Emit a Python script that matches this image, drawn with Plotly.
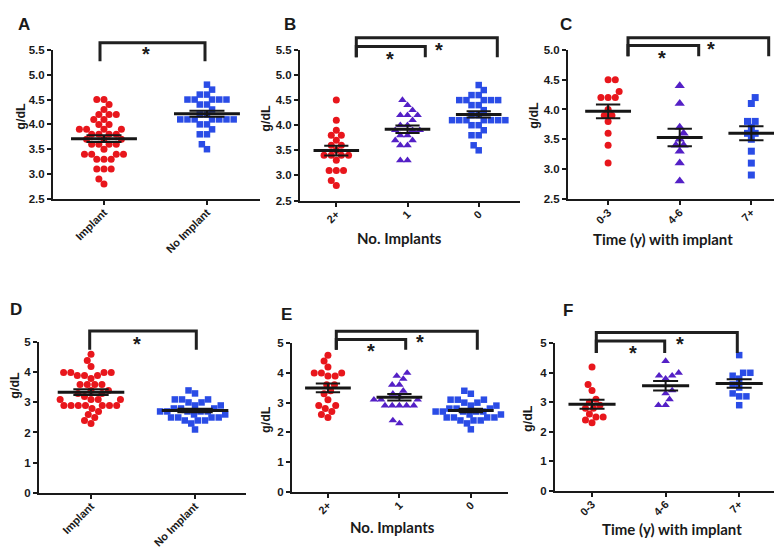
import numpy as np
import plotly.graph_objects as go

W, H = 782, 548

# ---------------- data (g/dL) ----------------
a_categories = ["Implant", "No Implant"]
a_implant = [4.5, 4.5, 4.4, 4.3, 4.2, 4.2, 4.2, 4.1, 4.1, 4.0, 4.0, 3.9, 3.9, 3.9, 3.9,
             3.8, 3.8, 3.8, 3.8, 3.7, 3.7, 3.7, 3.6, 3.6, 3.6, 3.6, 3.5, 3.4, 3.4, 3.4,
             3.4, 3.3, 3.3, 3.3, 3.1, 3.1, 3.1, 2.9, 2.8]
a_no_implant = [4.8, 4.7, 4.6, 4.6, 4.5, 4.5, 4.5, 4.5, 4.5, 4.4, 4.4, 4.3, 4.2, 4.2,
                4.1, 4.1, 4.1, 4.1, 4.1, 4.1, 4.1, 4.0, 4.0, 3.9, 3.8, 3.8, 3.6, 3.5]

b_categories = ["2+", "1", "0"]
b_two_plus = [4.5, 4.1, 3.9, 3.8, 3.8, 3.7, 3.6, 3.6, 3.5, 3.4, 3.4, 3.4, 3.4, 3.3,
              3.1, 3.1, 3.1, 2.9, 2.8]
b_one = [4.5, 4.4, 4.3, 4.2, 4.2, 4.2, 4.1, 4.0, 4.0, 3.9, 3.9, 3.9, 3.8, 3.8, 3.7,
         3.7, 3.6, 3.6, 3.3, 3.3]
b_zero = a_no_implant

c_categories = ["0-3", "4-6", "7+"]
c_0_3 = [4.5, 4.5, 4.3, 4.2, 4.2, 4.2, 4.0, 3.9, 3.9, 3.8, 3.6, 3.4, 3.1]
c_4_6 = [4.4, 4.1, 3.7, 3.6, 3.5, 3.4, 3.4, 3.3, 3.1, 2.8]
c_7_plus = [4.2, 4.1, 3.8, 3.8, 3.7, 3.6, 3.6, 3.5, 3.3, 3.1, 2.9]

d_categories = ["Implant", "No Implant"]
e_two_plus = [4.6, 4.4, 4.2, 4.0, 4.0, 4.0, 3.9, 3.9, 3.6, 3.6, 3.4, 3.3, 3.1, 2.9,
              2.9, 2.8, 2.7, 2.6, 2.5]
e_one = [4.0, 3.9, 3.8, 3.6, 3.6, 3.4, 3.3, 3.2, 3.1, 3.1, 3.1, 2.9, 2.9, 2.9, 2.9,
         2.9, 2.4, 2.3]
e_zero = [3.4, 3.3, 3.1, 3.1, 3.1, 3.0, 3.0, 2.9, 2.9, 2.8, 2.8, 2.8, 2.7, 2.7, 2.7,
          2.7, 2.7, 2.6, 2.6, 2.5, 2.5, 2.5, 2.5, 2.4, 2.4, 2.4, 2.3, 2.1]
d_implant = e_two_plus + e_one
d_no_implant = e_zero
e_categories = ["2+", "1", "0"]

f_categories = ["0-3", "4-6", "7+"]
f_0_3 = [4.2, 3.6, 3.4, 3.1, 3.0, 2.9, 2.8, 2.8, 2.6, 2.5, 2.5, 2.4, 2.3]
f_4_6 = [4.4, 4.0, 3.9, 3.9, 3.8, 3.4, 3.3, 3.1, 2.9, 2.9]
f_7_plus = [4.6, 4.0, 4.0, 3.9, 3.8, 3.6, 3.5, 3.3, 3.2, 3.2, 2.9]

RED, PURPLE, BLUE = "#E8161C", "#5420C6", "#2A4CE6"
BLACK = "#161616"
AX = "#1a1a1a"

def px_x(p):
    return p / W

def px_y(p):
    return 1 - p / H

# panel geometry (pixel-measured)
panels = [
    dict(x=(45, 252), y=(36.7, 189.0), xr=[-0.495, 1.515], yr=[2.5, 5.5],
         yt=[2.5, 3.0, 3.5, 4.0, 4.5, 5.0, 5.5], fmt="{:.1f}", cats=a_categories,
         groups=[(a_implant, RED, "circle", 7), (a_no_implant, BLUE, "square", 6.5)]),
    dict(x=(292, 512), y=(36.7, 190.7), xr=[-0.51, 2.58], yr=[2.5, 5.5],
         yt=[2.5, 3.0, 3.5, 4.0, 4.5, 5.0, 5.5], fmt="{:.1f}", cats=b_categories,
         groups=[(b_two_plus, RED, "circle", 7), (b_one, PURPLE, "triangle-up", 7.5),
                 (b_zero, BLUE, "square", 6.5)]),
    dict(x=(560, 777), y=(36.7, 189.0), xr=[-0.56, 2.47], yr=[2.5, 5.0],
         yt=[2.5, 3.0, 3.5, 4.0, 4.5, 5.0], fmt="{:.1f}", cats=c_categories,
         groups=[(c_0_3, RED, "circle", 7), (c_4_6, PURPLE, "triangle-up", 9),
                 (c_7_plus, BLUE, "square", 7)]),
    dict(x=(31, 238), y=(335.7, 489.3), xr=[-0.5, 1.49], yr=[0, 5],
         yt=[0, 1, 2, 3, 4, 5], fmt="{:.0f}", cats=d_categories,
         groups=[(d_implant, RED, "circle", 7), (d_no_implant, BLUE, "square", 6.5)]),
    dict(x=(284, 500), y=(336.7, 488.3), xr=[-0.503, 2.52], yr=[0, 5],
         yt=[0, 1, 2, 3, 4, 5], fmt="{:.0f}", cats=e_categories,
         groups=[(e_two_plus, RED, "circle", 7), (e_one, PURPLE, "triangle-up", 7.5),
                 (e_zero, BLUE, "square", 6.5)]),
    dict(x=(547, 768), y=(336.7, 487.3), xr=[-0.503, 2.5], yr=[0, 5],
         yt=[0, 1, 2, 3, 4, 5], fmt="{:.0f}", cats=f_categories,
         groups=[(f_0_3, RED, "circle", 7), (f_4_6, PURPLE, "triangle-up", 7.5),
                 (f_7_plus, BLUE, "square", 6.5)]),
]


def swarm(vals, ppu_y, ppu_x, d=7.2):
    vals = np.asarray(vals, dtype=float)
    order = np.argsort(vals, kind="stable")
    placed = []
    xs = np.zeros(len(vals))
    for n, i in enumerate(order):
        y = vals[i] * ppu_y
        cands = [0.0]
        for (qx, qy) in placed:
            dy = abs(qy - y)
            if dy < d:
                dx = np.sqrt(d * d - dy * dy)
                cands += [qx + dx, qx - dx]
        sgn = 1 if n % 2 == 0 else -1
        cands.sort(key=lambda c: (round(abs(c), 6), -sgn * c))
        chosen = cands[-1]
        for c in cands:
            if all((c - qx) ** 2 + (y - qy) ** 2 >= d * d - 1e-6 for qx, qy in placed):
                chosen = c
                break
        placed.append((chosen, y))
        xs[i] = chosen / ppu_x
    return xs


fig = go.Figure()
layout = dict(width=W, height=H, margin=dict(l=0, r=0, t=0, b=0),
              paper_bgcolor="white", plot_bgcolor="white", showlegend=False)

tickfont = dict(family="Liberation Sans, Arial, sans-serif", size=11.5, color=AX, weight="bold")
xtickfont = dict(family="Liberation Sans, Arial, sans-serif", size=11, color=AX, weight="bold")

for k, p in enumerate(panels, start=1):
    xa = "x" if k == 1 else f"x{k}"
    ya = "y" if k == 1 else f"y{k}"
    x0, x1 = p["x"]
    yt_px, yb_px = p["y"]
    ncat = len(p["cats"])
    ppu_x = (x1 - x0) / (p["xr"][1] - p["xr"][0])
    ppu_y = (yb_px - yt_px) / (p["yr"][1] - p["yr"][0])
    for gi, (vals, col, sym, size) in enumerate(p["groups"]):
        offs = swarm(vals, ppu_y, ppu_x)
        fig.add_trace(go.Scatter(
            x=gi + offs, y=vals, mode="markers", xaxis=xa, yaxis=ya,
            marker=dict(color=col, symbol=sym, size=size, line=dict(width=0)),
            cliponaxis=False, hoverinfo="y"))
    for gi, (vals, col, sym, size) in enumerate(p["groups"]):
        v = np.asarray(vals, dtype=float)
        m = v.mean()
        sem = v.std(ddof=1) / np.sqrt(len(v))
        fig.add_trace(go.Scatter(
            x=[gi - 0.17, gi + 0.17, None, gi, gi, None, gi - 0.17, gi + 0.17],
            y=[m + sem, m + sem, None, m + sem, m - sem, None, m - sem, m - sem],
            mode="lines", line=dict(color=BLACK, width=2), xaxis=xa, yaxis=ya,
            hoverinfo="skip"))
        fig.add_trace(go.Scatter(
            x=[gi - 0.32, gi + 0.32], y=[m, m], mode="lines",
            line=dict(color=BLACK, width=3), xaxis=xa, yaxis=ya, hoverinfo="skip"))

    xkey = "xaxis" if k == 1 else f"xaxis{k}"
    ykey = "yaxis" if k == 1 else f"yaxis{k}"
    layout[xkey] = dict(domain=[px_x(x0), px_x(x1)], range=p["xr"], anchor=ya,
                        tickvals=list(range(ncat)), ticktext=p["cats"], tickangle=-45,
                        showline=True, linecolor=AX, linewidth=2, ticks="outside",
                        ticklen=4, tickwidth=2, tickcolor=AX, showgrid=False,
                        zeroline=False, tickfont=xtickfont, fixedrange=True,
                        ticklabelstandoff=-3)
    layout[ykey] = dict(domain=[px_y(yb_px), px_y(yt_px)], range=p["yr"], anchor=xa,
                        tickvals=p["yt"], ticktext=[p["fmt"].format(t) for t in p["yt"]],
                        showline=True, linecolor=AX, linewidth=2, ticks="outside",
                        ticklen=4, tickwidth=2, tickcolor=AX, showgrid=False,
                        zeroline=False, tickfont=tickfont, fixedrange=True)

# significance brackets (pixel positions)
brackets = [
    (92, 197, 29.3, 48.3),
    (348.3, 489.3, 24.3, 44.3), (348.3, 417.3, 33.3, 44.3),
    (620, 760.7, 24.3, 43.3), (620, 690.7, 32.3, 43.3),
    (81.7, 188.3, 324, 343.3),
    (328.3, 469.3, 324.3, 343.3), (328.3, 397.7, 332.7, 343.3),
    (588.3, 729.3, 325.7, 346.7), (588.3, 656.7, 334.3, 346.7),
]
shapes = []
for (bx1, bx2, btop, bbot) in brackets:
    path = (f"M {px_x(bx1)},{px_y(bbot)} L {px_x(bx1)},{px_y(btop)} "
            f"L {px_x(bx2)},{px_y(btop)} L {px_x(bx2)},{px_y(bbot)}")
    shapes.append(dict(type="path", path=path, xref="paper", yref="paper",
                       line=dict(color="#202020", width=3)))
layout["shapes"] = shapes

stars = [(138, 37), (381.7, 41.7), (430.7, 32.3), (654, 40.7), (702.7, 31.7),
         (129.3, 333.3), (362.7, 341), (411.7, 331.7), (625, 342.7), (671.7, 333.3)]
annotations = []
for sx, sy in stars:
    annotations.append(dict(text="*", x=px_x(sx), y=px_y(sy + 4), xref="paper", yref="paper",
                            showarrow=False, xanchor="center", yanchor="middle",
                            font=dict(family="Liberation Sans, Arial", size=20, color=AX,
                                      weight="bold")))

letters = [("A", 16, 11), ("B", 282, 11), ("C", 558, 11),
           ("D", 8, 302), ("E", 278, 307), ("F", 560, 303)]
for t, lx, ly in letters:
    annotations.append(dict(text=t, x=px_x(lx), y=px_y(ly), xref="paper", yref="paper",
                            showarrow=False, xanchor="center", yanchor="middle",
                            font=dict(family="Liberation Sans, Arial", size=17, color=AX,
                                      weight="bold")))

ytitles = [(13, 105), (258, 107), (526, 104), (7, 380), (258, 415), (520, 414)]
for tx, ty in ytitles:
    annotations.append(dict(text="g/dL", x=px_x(tx), y=px_y(ty), xref="paper", yref="paper",
                            showarrow=False, xanchor="center", yanchor="middle",
                            textangle=-90,
                            font=dict(family="Liberation Sans, Arial", size=12.5, color=AX,
                                      weight="bold")))

xtitles = [("No. Implants", 391, 229), ("Time (y) with implant", 655, 230),
           ("No. Implants", 384, 524), ("Time (y) with implant", 664, 527)]
for t, tx, ty in xtitles:
    annotations.append(dict(text=t, x=px_x(tx), y=px_y(ty), xref="paper", yref="paper",
                            showarrow=False, xanchor="center", yanchor="middle",
                            font=dict(family="Lato, Open Sans, sans-serif", size=15,
                                      color=AX, weight="bold")))
layout["annotations"] = annotations

fig.update_layout(**layout)
fig.write_html("out.html")
